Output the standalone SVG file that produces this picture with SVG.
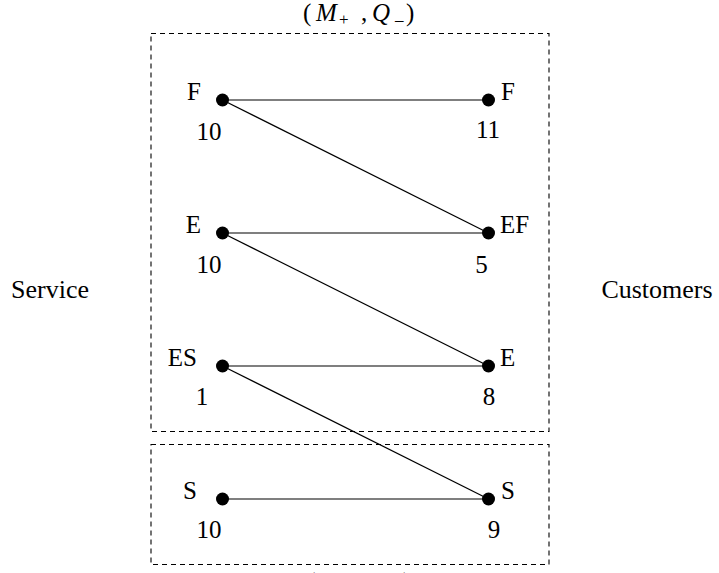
<svg xmlns="http://www.w3.org/2000/svg" width="719" height="573" viewBox="0 0 719 573" font-family="Times New Roman, Liberation Serif, serif">
<rect width="719" height="573" fill="#fff"/>
<g id="frames" fill="none" stroke="#000" stroke-width="1.1" stroke-dasharray="5 4">
<rect x="151" y="33.5" width="398" height="398"/>
<rect x="151" y="444.5" width="398" height="120"/>
</g>
<g id="connectors" stroke="#000" stroke-width="1.2" fill="none">
<line x1="222.5" y1="100" x2="488.5" y2="100"/>
<line x1="222.5" y1="100" x2="488.5" y2="233"/>
<line x1="222.5" y1="233" x2="488.5" y2="233"/>
<line x1="222.5" y1="233" x2="488.5" y2="366"/>
<line x1="222.5" y1="366" x2="488.5" y2="366"/>
<line x1="222.5" y1="366" x2="488.5" y2="499"/>
<line x1="222.5" y1="499" x2="488.5" y2="499"/>
</g>
<text id="service" x="50" y="298" font-family="Times New Roman, Liberation Serif, serif" font-size="26" text-anchor="middle">Service</text>
<text id="customers" x="657" y="298" font-family="Times New Roman, Liberation Serif, serif" font-size="26" text-anchor="middle">Customers</text>
<g id="title-top"><text y="21" font-family="Times New Roman, Liberation Serif, serif" font-size="25"><tspan x="303">(</tspan><tspan font-style="italic" x="316">M</tspan><tspan font-size="17" x="339" dy="4">+</tspan><tspan x="361" dy="-4">,</tspan><tspan font-style="italic" x="372">Q</tspan><tspan font-size="17" x="395" dy="4">–</tspan><tspan x="406" dy="-4">)</tspan></text></g>
<g id="title-bottom"><text y="590" font-family="Times New Roman, Liberation Serif, serif" font-size="25"><tspan x="307">(</tspan><tspan font-style="italic" x="320">M</tspan><tspan font-size="17" x="343" dy="4">–</tspan><tspan x="358" dy="-4">,</tspan><tspan font-style="italic" x="368">Q</tspan><tspan font-size="17" x="390" dy="4">+</tspan><tspan x="403" dy="-4">)</tspan></text></g>
<g id="service-F"><circle cx="222.5" cy="100" r="6.5"/><text font-family="Times New Roman, Liberation Serif, serif" font-size="25" text-anchor="end" x="201" y="100">F</text><text font-family="Times New Roman, Liberation Serif, serif" font-size="25" text-anchor="middle" x="209" y="140">10</text></g>
<g id="service-E"><circle cx="222.5" cy="233" r="6.5"/><text font-family="Times New Roman, Liberation Serif, serif" font-size="25" text-anchor="end" x="201" y="233">E</text><text font-family="Times New Roman, Liberation Serif, serif" font-size="25" text-anchor="middle" x="209" y="273">10</text></g>
<g id="service-ES"><circle cx="222.5" cy="366" r="6.5"/><text font-family="Times New Roman, Liberation Serif, serif" font-size="25" text-anchor="end" x="197" y="366">ES</text><text font-family="Times New Roman, Liberation Serif, serif" font-size="25" text-anchor="middle" x="202" y="405">1</text></g>
<g id="service-S"><circle cx="222.5" cy="499" r="6.5"/><text font-family="Times New Roman, Liberation Serif, serif" font-size="25" text-anchor="end" x="197" y="499">S</text><text font-family="Times New Roman, Liberation Serif, serif" font-size="25" text-anchor="middle" x="209" y="538">10</text></g>
<g id="customer-F"><circle cx="488.5" cy="100" r="6.5"/><text font-family="Times New Roman, Liberation Serif, serif" font-size="25" x="501" y="100">F</text><text font-family="Times New Roman, Liberation Serif, serif" font-size="25" text-anchor="middle" x="488" y="138">11</text></g>
<g id="customer-EF"><circle cx="488.5" cy="233" r="6.5"/><text font-family="Times New Roman, Liberation Serif, serif" font-size="25" x="500" y="233">EF</text><text font-family="Times New Roman, Liberation Serif, serif" font-size="25" text-anchor="middle" x="481.5" y="273">5</text></g>
<g id="customer-E"><circle cx="488.5" cy="366" r="6.5"/><text font-family="Times New Roman, Liberation Serif, serif" font-size="25" x="500" y="366">E</text><text font-family="Times New Roman, Liberation Serif, serif" font-size="25" text-anchor="middle" x="489" y="405">8</text></g>
<g id="customer-S"><circle cx="488.5" cy="499" r="6.5"/><text font-family="Times New Roman, Liberation Serif, serif" font-size="25" x="501" y="499">S</text><text font-family="Times New Roman, Liberation Serif, serif" font-size="25" text-anchor="middle" x="494" y="538">9</text></g>
</svg>
